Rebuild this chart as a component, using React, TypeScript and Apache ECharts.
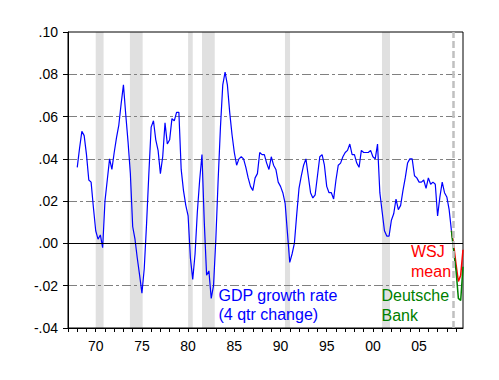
import React, { useEffect, useRef } from 'react';
import * as echarts from 'echarts';

// Axis extent (quarterly categories)
const FIRST_YEAR = 1967;
const LAST_YEAR = 2009;

// Real GDP growth, 4-quarter change, 1968Q1 .. 2008Q3
const gdpStart = '1968Q1';
const gdpGrowth = [
  0.036, 0.045, 0.053, 0.051, // 1968
  0.042, 0.030, 0.029, 0.017, // 1969
  0.006, 0.002, 0.004, -0.002, // 1970
  0.020, 0.030, 0.040, 0.035, // 1971
  0.043, 0.050, 0.056, 0.066, // 1972
  0.075, 0.061, 0.048, 0.033, // 1973
  0.008, 0.002, -0.007, -0.015, // 1974
  -0.0235, -0.012, 0.009, 0.033, // 1975
  0.055, 0.058, 0.049, 0.044, // 1976
  0.033, 0.041, 0.057, 0.047, // 1977
  0.049, 0.059, 0.058, 0.062, // 1978
  0.062, 0.035, 0.025, 0.018, // 1979
  0.013, -0.007, -0.017, -0.005, // 1980
  0.015, 0.030, 0.042, 0.010, // 1981
  -0.015, -0.013, -0.026, -0.020, // 1982
  0.002, 0.030, 0.055, 0.075, // 1983
  0.081, 0.075, 0.062, 0.0515, // 1984
  0.043, 0.037, 0.040, 0.041, // 1985
  0.040, 0.036, 0.031, 0.027, // 1986
  0.025, 0.031, 0.033, 0.043, // 1987
  0.042, 0.042, 0.038, 0.035, // 1988
  0.041, 0.037, 0.035, 0.029, // 1989
  0.027, 0.024, 0.019, 0.005, // 1990
  -0.009, -0.005, 0.000, 0.0135, // 1991
  0.026, 0.032, 0.037, 0.040, // 1992
  0.032, 0.024, 0.0215, 0.023, // 1993
  0.032, 0.041, 0.042, 0.037, // 1994
  0.027, 0.024, 0.024, 0.021, // 1995
  0.030, 0.037, 0.038, 0.041, // 1996
  0.043, 0.044, 0.047, 0.042, // 1997
  0.042, 0.038, 0.036, 0.044, // 1998
  0.043, 0.043, 0.043, 0.044, // 1999
  0.041, 0.040, 0.047, 0.024, // 2000
  0.015, 0.006, 0.0035, 0.0035, // 2001
  0.011, 0.014, 0.021, 0.016, // 2002
  0.018, 0.025, 0.031, 0.038, // 2003
  0.040, 0.040, 0.032, 0.031, // 2004
  0.029, 0.029, 0.030, 0.026, // 2005
  0.031, 0.028, 0.029, 0.028, // 2006
  0.013, 0.022, 0.029, 0.024, // 2007
  0.022, 0.016, 0.006, // 2008
];

// Forecasts, 2008Q3 .. 2009Q4
const forecastStart = '2008Q3';
const wsjMean = [0.006, -0.001, -0.010, -0.018, -0.015, -0.003];
const deutscheBank = [0.006, -0.004, -0.013, -0.026, -0.027, -0.011];

// NBER recessions (fractional years) and forecast marker
const recessions: [number, number][] = [
  [1970.0, 1970.85],
  [1973.7, 1975.08],
  [1980.0, 1980.5],
  [1981.5, 1982.88],
  [1990.48, 1991.03],
  [2000.98, 2001.85],
];
const forecastMarker = 2008.7;

// Axis ticks
const labelYears = [1970, 1975, 1980, 1985, 1990, 1995, 2000, 2005];
const yMin = -0.04;
const yMax = 0.10;
const yStep = 0.02;

const FONT = '"Liberation Sans", Arial, Helvetica, sans-serif';

const categories: string[] = [];
for (let y = FIRST_YEAR; y <= LAST_YEAR; y++) {
  for (let q = 1; q <= 4; q++) categories.push(`${y}Q${q}`);
}

function place(values: number[], start: string): (number | null)[] {
  const out: (number | null)[] = categories.map(() => null);
  const s = categories.indexOf(start);
  values.forEach((v, i) => {
    if (s + i < out.length) out[s + i] = v;
  });
  return out;
}

function fmtY(v: number): string {
  const r = Math.round(v * 100);
  const s = (Math.abs(r) / 100).toFixed(2).replace(/^0/, '');
  return r < 0 ? '-' + s : s;
}

export default function App() {
  const ref = useRef<HTMLDivElement>(null);

  useEffect(() => {
    if (!ref.current) return;
    const chart = echarts.init(ref.current, undefined, { renderer: 'svg' });

    const option: any = {
      animation: false,
      backgroundColor: '#ffffff',
      grid: {
        left: 68,
        top: 32,
        width: 395,
        height: 296,
        show: true,
        borderColor: '#000',
        borderWidth: 1,
        backgroundColor: 'transparent',
      },
      xAxis: [
        {
          type: 'category',
          data: categories,
          boundaryGap: false,
          axisLine: { show: true, onZero: false, lineStyle: { color: '#000', width: 1 } },
          axisTick: {
            show: true,
            length: 4,
            interval: (i: number) => i % 4 === 0,
            lineStyle: { color: '#000', width: 1 },
          },
          axisLabel: {
            interval: (i: number, v: string) =>
              v.endsWith('Q1') && labelYears.includes(parseInt(v.slice(0, 4), 10)),
            formatter: (v: string) => v.slice(2, 4),
            color: '#000',
            fontSize: 14,
            fontFamily: FONT,
            margin: 11,
          },
          splitLine: { show: false },
        },
        {
          type: 'value',
          min: FIRST_YEAR,
          max: LAST_YEAR + 0.75,
          show: false,
          gridIndex: 0,
        },
      ],
      yAxis: {
        type: 'value',
        min: yMin,
        max: yMax,
        interval: yStep,
        axisLine: { show: true, lineStyle: { color: '#000', width: 1 } },
        axisTick: { show: true, length: 5, lineStyle: { color: '#000' } },
        axisLabel: {
          formatter: fmtY,
          color: '#000',
          fontSize: 14,
          fontFamily: FONT,
          margin: 10,
        },
        splitLine: {
          show: true,
          showMinLine: false,
          showMaxLine: false,
          lineStyle: { color: '#808080', width: 1, type: [9, 3, 3, 3] },
        },
      },
      series: [
        {
          name: 'recessions',
          type: 'line',
          xAxisIndex: 1,
          data: [],
          silent: true,
          markArea: {
            silent: true,
            z: -1,
            itemStyle: { color: '#e0e0e0' },
            data: recessions.map(([a, b]) => [{ xAxis: a }, { xAxis: b }]),
          },
          markLine: {
            silent: true,
            symbol: ['none', 'none'],
            label: { show: false },
            lineStyle: { color: '#c0c0c0', width: 2.5, type: [7, 3] },
            data: [{ xAxis: forecastMarker }],
          },
        },
        {
          name: 'GDP growth rate',
          type: 'line',
          xAxisIndex: 0,
          data: place(gdpGrowth, gdpStart),
          symbol: 'none',
          connectNulls: false,
          lineStyle: { color: '#0000ff', width: 1.2 },
          markLine: {
            silent: true,
            symbol: ['none', 'none'],
            label: { show: false },
            lineStyle: { color: '#000', width: 1, type: 'solid' },
            data: [{ yAxis: 0 }],
          },
        },
        {
          name: 'WSJ mean',
          type: 'line',
          xAxisIndex: 0,
          data: place(wsjMean, forecastStart),
          symbol: 'none',
          lineStyle: { color: '#ff0000', width: 1.5 },
        },
        {
          name: 'Deutsche Bank',
          type: 'line',
          xAxisIndex: 0,
          data: place(deutscheBank, forecastStart),
          symbol: 'none',
          lineStyle: { color: '#008000', width: 1.5 },
        },
      ],
      graphic: [
        { type: 'text', x: 218.5, y: 295.5, style: { text: 'GDP growth rate', fill: '#0000ff', fontSize: 16, fontFamily: FONT, verticalAlign: 'middle' } },
        { type: 'text', x: 218.5, y: 314.5, style: { text: '(4 qtr change)', fill: '#0000ff', fontSize: 16, fontFamily: FONT, verticalAlign: 'middle' } },
        { type: 'text', x: 411, y: 251, style: { text: 'WSJ', fill: '#ff0000', fontSize: 16, fontFamily: FONT, verticalAlign: 'middle' } },
        { type: 'text', x: 411, y: 271.5, style: { text: 'mean', fill: '#ff0000', fontSize: 16, fontFamily: FONT, verticalAlign: 'middle' } },
        { type: 'text', x: 381.5, y: 295.5, style: { text: 'Deutsche', fill: '#008000', fontSize: 16, fontFamily: FONT, verticalAlign: 'middle' } },
        { type: 'text', x: 381.5, y: 315.5, style: { text: 'Bank', fill: '#008000', fontSize: 16, fontFamily: FONT, verticalAlign: 'middle' } },
      ],
    };

    chart.setOption(option);
    return () => chart.dispose();
  }, []);

  return (
    <div
      ref={ref}
      style={{ position: 'absolute', left: 0, top: 0, width: 499, height: 380, background: '#fff' }}
    />
  );
}
